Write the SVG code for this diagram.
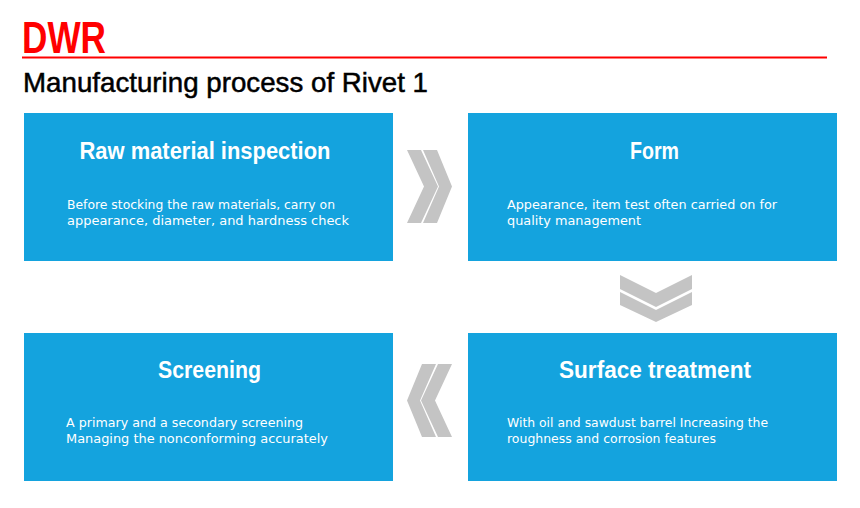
<svg xmlns="http://www.w3.org/2000/svg" width="860" height="508" viewBox="0 0 860 508">
<style>
.box{fill:#14a3de}
.title{font-family:"Liberation Sans",Arial,sans-serif;font-weight:bold;font-size:23px;fill:#fff;text-anchor:middle}
.body{font-family:"DejaVu Sans","Liberation Sans",sans-serif;font-size:13px;fill:#fff}
.chev{fill:#c4c4c4}
</style>
<rect width="860" height="508" fill="#fff"/>
<text x="22" y="53" font-family="'Liberation Sans',Arial,sans-serif" font-weight="bold" font-size="44" fill="#f00" textLength="84" lengthAdjust="spacingAndGlyphs">DWR</text>
<rect x="22" y="56.5" width="805" height="2" fill="#f00"/>
<text x="23" y="92" font-family="'Liberation Sans',Arial,sans-serif" font-size="28" fill="#000" stroke="#000" stroke-width="0.5" textLength="405" lengthAdjust="spacingAndGlyphs">Manufacturing process of Rivet 1</text>
<g id="node-raw">
<rect class="box" x="24" y="113" width="369" height="148"/>
<text class="title" x="205" y="159" textLength="251" lengthAdjust="spacingAndGlyphs">Raw material inspection</text>
<text class="body" x="67" y="209" textLength="268" lengthAdjust="spacingAndGlyphs">Before stocking the raw materials, carry on</text>
<text class="body" x="67" y="225" textLength="282" lengthAdjust="spacingAndGlyphs">appearance, diameter, and hardness check</text>
</g>
<g id="node-form">
<rect class="box" x="468" y="113" width="369" height="148"/>
<text class="title" x="654.5" y="159" textLength="49" lengthAdjust="spacingAndGlyphs">Form</text>
<text class="body" x="507" y="209" textLength="270" lengthAdjust="spacingAndGlyphs">Appearance, item test often carried on for</text>
<text class="body" x="507" y="225" textLength="134" lengthAdjust="spacingAndGlyphs">quality management</text>
</g>
<g id="node-surface">
<rect class="box" x="468" y="333" width="369" height="148"/>
<text class="title" x="655" y="378" textLength="192" lengthAdjust="spacingAndGlyphs">Surface treatment</text>
<text class="body" x="507" y="427" textLength="261" lengthAdjust="spacingAndGlyphs">With oil and sawdust barrel Increasing the</text>
<text class="body" x="507" y="443" textLength="209" lengthAdjust="spacingAndGlyphs">roughness and corrosion features</text>
</g>
<g id="node-screening">
<rect class="box" x="24" y="333" width="369" height="148"/>
<text class="title" x="209.5" y="378" textLength="103" lengthAdjust="spacingAndGlyphs">Screening</text>
<text class="body" x="66" y="427" textLength="237" lengthAdjust="spacingAndGlyphs">A primary and a secondary screening</text>
<text class="body" x="66" y="443" textLength="262" lengthAdjust="spacingAndGlyphs">Managing the nonconforming accurately</text>
</g>
<g id="connectors">
<polygon class="chev" points="407,150 421,150 438,186.5 421,223 407,223 424,186.5"/>
<polygon class="chev" points="423,150 437,150 452,186.5 437,223 423,223 439,186.5"/>
<polygon class="chev" points="620,275 656,293 692,275 692,289 656,307 620,289"/>
<polygon class="chev" points="620,292 656,310 692,292 692,305 656,322 620,305"/>
<polygon class="chev" points="452,364 438,364 421,400.5 438,437 452,437 435,400.5"/>
<polygon class="chev" points="436,364 422,364 407,400.5 422,437 436,437 420,400.5"/>
</g>
</svg>
